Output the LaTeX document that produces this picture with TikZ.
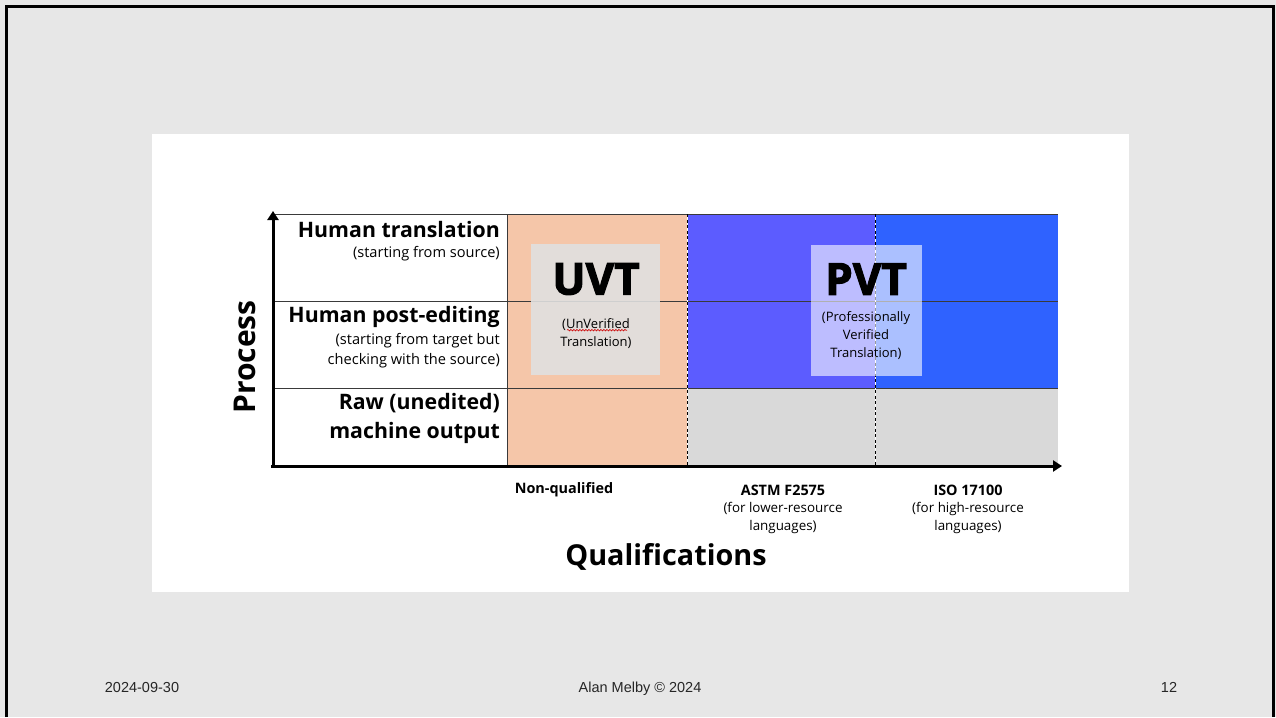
\documentclass[tikz,border=0pt]{standalone}
\usepackage{fontspec}
\setmainfont{Open Sans}
\newfontfamily\footfont{Liberation Sans}
\usetikzlibrary{arrows.meta,positioning,calc,decorations.pathmorphing}

\definecolor{slideBg}{HTML}{E7E7E7}
\definecolor{nonQual}{HTML}{F5C6A9}
\definecolor{astmFill}{HTML}{5C5CFF}
\definecolor{isoFill}{HTML}{2F62FF}
\definecolor{rawFill}{HTML}{D9D9D9}
\definecolor{gridLine}{HTML}{3A3A3A}

\tikzset{
    rowHead/.style={anchor=east, inner sep=0pt, align=right,
        font=\bfseries\fontsize{21.3}{29}\selectfont},
    rowNote/.style={anchor=east, inner sep=0pt, align=right,
        font=\fontsize{14.6}{20}\selectfont},
    colHead/.style={inner sep=0pt, font=\bfseries\fontsize{14.4}{16}\selectfont},
    colNote/.style={inner sep=0pt, align=center, font=\fontsize{13.4}{18}\selectfont},
    tagBox/.style={minimum width=#1, minimum height=131pt, inner sep=0pt},
    tagTitle/.style={inner sep=0pt, font=\bfseries\fontsize{44}{44}\selectfont\addfontfeature{FakeBold=2.5}},
    tagNote/.style={inner sep=0pt, align=center, font=\fontsize{13}{18}\selectfont},
    axisLine/.style={line width=3pt, -{Triangle[length=9pt,width=11pt]}},
    gridRule/.style={draw=gridLine, line width=0.9pt},
    tierRule/.style={line width=1pt},
    footText/.style={inner sep=0pt, anchor=base, text=black!85, font=\footfont\fontsize{14.5}{16}\selectfont}
}

\begin{document}
\begin{tikzpicture}[x=1pt, y=-1pt]
\useasboundingbox (0,0) rectangle (1276,717);

% slide, frame and white panel
\fill[slideBg] (0,0) rectangle (1276,717);
\draw[line width=3pt] (6.5,717) -- (6.5,6.5) -- (1273.5,6.5) -- (1273.5,717);
\fill[white] (152,134) rectangle (1129,592);

% cells of the chart
\fill[nonQual] (507,214) rectangle (687,466);
\fill[astmFill] (687,214) rectangle (875,388);
\fill[isoFill] (875,214) rectangle (1058,388);
\fill[rawFill] (687,388) rectangle (1058,466);

% grid
\draw[gridRule] (273,214) -- (1058,214);
\draw[gridRule] (273,301) -- (1058,301);
\draw[gridRule] (273,388) -- (1058,388);
\draw[gridRule] (507,214) -- (507,466);
\foreach \x in {687,875} {
    \draw[white, tierRule] (\x,214) -- (\x,466);
    \draw[black, tierRule, dash pattern=on 3pt off 2.5pt] (\x,214) -- (\x,466);
}

% axes
\coordinate (origin) at (271,466);
\coordinate (ytip) at (273,211);
\coordinate (xtip) at (1062,466);
\draw[axisLine] (273,467.5) -- (ytip);
\draw[axisLine] (origin) -- (xtip);

% row labels
\node[rowHead] (human) at (500,230) {Human translation};
\node[rowNote] (humanNote) at (500,254) {(starting from source)};
\node[rowHead] (postedit) at (500,317) {Human post-editing};
\node[rowNote] (posteditNote) at (500,351) {(starting from target but\\checking with the source)};
\node[rowHead] (raw) at (500,418) {Raw (unedited)\\machine output};
\node[rotate=90, inner sep=0pt, font=\bfseries\fontsize{30}{30}\selectfont] (process) at (245,357) {Process};

% column labels
\node[colHead] (nonq) at (564,490) {Non-qualified};
\node[colHead] (astm) at (783,490) {ASTM F2575};
\node[colNote] (astmNote) at (783,518) {(for lower-resource\\languages)};
\node[colHead] (iso) at (968,490) {ISO 17100};
\node[colNote] (isoNote) at (968,518) {(for high-resource\\languages)};
\node[inner sep=0pt, font=\bfseries\fontsize{28.8}{29}\selectfont] (qual) at (666,557) {Qualifications};

% UVT and PVT tags
\node[tagBox=129pt, fill=white!88!black, fill opacity=0.9] (uvt) at (595.5,309.5) {};
\node[tagTitle] (uvtTitle) at (596,279) {UVT};
\node[tagNote] (uvtWord) at (596,325) {(UnVerified};
\node[tagNote] (uvtRest) at (596,343) {Translation)};
\draw[red!80!black, line width=0.6pt, decorate,
      decoration={snake, amplitude=0.8pt, segment length=3pt}]
    ($(uvtWord.south west)+(5,-1)$) -- ($(uvtWord.south east)+(-3,-1)$);

\node[tagBox=111pt, fill=white, fill opacity=0.6] (pvt) at (866.5,310) {};
\node[tagTitle] (pvtTitle) at (866,279) {PVT};
\node[tagNote] (pvtNote) at (866,336) {(Professionally\\Verified\\Translation)};

% footer
\node[footText] (date) at (142,692) {2024-09-30};
\node[footText] (author) at (640,692) {Alan Melby © 2024};
\node[footText] (page) at (1169,692) {12};
\end{tikzpicture}
\end{document}
